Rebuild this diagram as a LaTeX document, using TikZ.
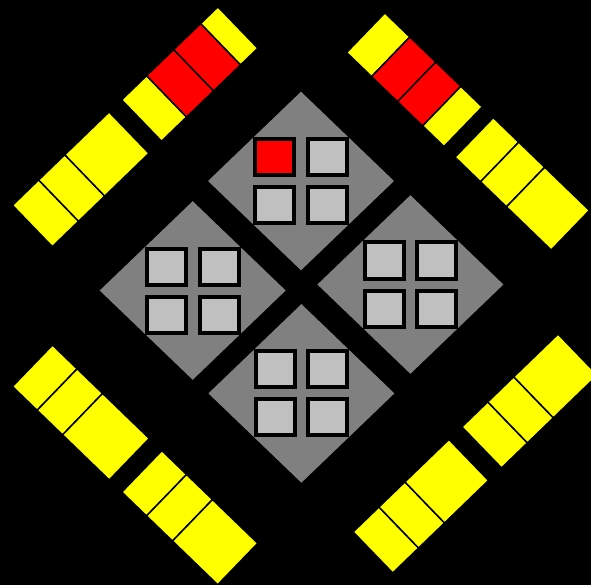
\documentclass[tikz,border=0pt]{standalone}
\usepackage{tikz}
\definecolor{board}{HTML}{000000}
\definecolor{tilegray}{HTML}{808080}
\definecolor{chipgray}{HTML}{C0C0C0}
\definecolor{hot}{HTML}{FF0000}
\definecolor{lamp}{HTML}{FFFF00}
\tikzset{
  tile/.style={fill=tilegray},
  chip/.style={fill=chipgray, draw=black, line width=4pt},
  seg/.style={draw=black, line width=1.5pt},
}

\begin{document}
\begin{tikzpicture}[x=1pt, y=-1pt]
  \useasboundingbox (0,0) rectangle (591,585);
  \fill[board] (0,0) rectangle (591,585);
  % four tiles, each with a 2x2 block of chips
  \foreach \cx/\cy in {301/181, 192.7/290.5, 410.4/284.5, 301.4/393.4} {
    \fill[tile] (\cx,\cy-89.3) -- (\cx+93,\cy) -- (\cx,\cy+89.3) -- (\cx-93,\cy) -- cycle;
    \foreach \dx in {-26.4,26.4} { \foreach \dy in {-24,24} {
      \draw[chip] (\cx+\dx-19.5,\cy+\dy-18) rectangle (\cx+\dx+19.5,\cy+\dy+18); } }
  }
  \draw[chip, fill=hot] (255.1,139) rectangle (294.1,175);
  % the four bars, laid along the diagonals
  \begin{scope}[rotate=44]
    \foreach \a/\b/\c in {-133.7/-97.2/lamp, -97.2/-60.9/lamp, -60.9/0.7/lamp, 18.1/52.9/lamp, 52.9/90.5/hot, 90.5/128/hot, 128/152/lamp}
      { \filldraw[seg, fill=\c] (\a,156.3) rectangle (\b,213.8); }
    \foreach \a/\b in {-115.5/-79.6, -79.6/-43.5, -43.5/17.7, 35.7/71.7, 71.7/107.8, 107.8/169.4}
      { \filldraw[seg, fill=lamp] (\a,627.9) rectangle (\b,685); }
  \end{scope}
  \begin{scope}[rotate=-44]
    \foreach \a/\b/\c in {285.8/320.5/lamp, 320.5/356.6/hot, 356.6/391.5/hot, 391.5/421.2/lamp, 436.5/471.9/lamp, 471.9/508/lamp, 508/570.2/lamp}
      { \filldraw[seg, fill=\c] (\a,-258.1) rectangle (\b,-203); }
    \foreach \a/\b in {277.4/311.7, 311.7/347.1, 347.1/412, 429.4/463.8, 463.8/499.9, 499.9/562.8}
      { \filldraw[seg, fill=lamp] (\a,211.7) rectangle (\b,269.4); }
  \end{scope}
\end{tikzpicture}
\end{document}
